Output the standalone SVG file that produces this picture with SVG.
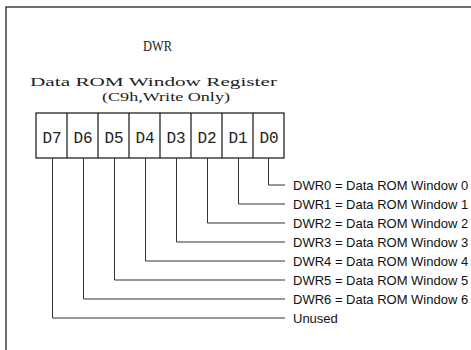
<svg xmlns="http://www.w3.org/2000/svg" width="471" height="350" viewBox="0 0 471 350">
<style>
.frame{fill:none;stroke:#222;stroke-width:1.3}
.cell{fill:#fff;stroke:#111;stroke-width:1.2}
.serif{font-family:"Liberation Serif","Times New Roman",serif;fill:#222}
.mono{font-family:"Liberation Mono","DejaVu Sans Mono",monospace;fill:#222}
.lbl{font-family:"Liberation Sans",Arial,sans-serif;font-size:13px;fill:#111}
.conn{fill:none;stroke:#333;stroke-width:1}
</style>
<rect width="471" height="350" fill="#fff"/>
<rect class="frame" x="6" y="7" width="520" height="400"/>
<g id="title">
<text class="serif" x="143" y="51" font-size="14" textLength="29" lengthAdjust="spacingAndGlyphs">DWR</text>
<text class="serif" x="30" y="86" font-size="13" textLength="247" lengthAdjust="spacingAndGlyphs">Data ROM Window Register</text>
<text class="serif" x="102" y="101" font-size="12" textLength="128" lengthAdjust="spacingAndGlyphs">(C9h,Write Only)</text>
</g>
<g id="register">
<rect class="cell" x="36" y="113" width="248" height="45"/>
<g class="cell">
<line x1="67" y1="113" x2="67" y2="158"/>
<line x1="98" y1="113" x2="98" y2="158"/>
<line x1="129" y1="113" x2="129" y2="158"/>
<line x1="160" y1="113" x2="160" y2="158"/>
<line x1="191" y1="113" x2="191" y2="158"/>
<line x1="222" y1="113" x2="222" y2="158"/>
<line x1="253" y1="113" x2="253" y2="158"/>
</g>
<g class="mono" font-size="16" text-anchor="middle">
<text x="52" y="143">D7</text>
<text x="83" y="143">D6</text>
<text x="114" y="143">D5</text>
<text x="145" y="143">D4</text>
<text x="176" y="143">D3</text>
<text x="207" y="143">D2</text>
<text x="238" y="143">D1</text>
<text x="269" y="143">D0</text>
</g>
</g>
<g id="connectors">
<polyline class="conn" points="268.5,158 268.5,185 285,185"/>
<polyline class="conn" points="238.5,158 238.5,204 285,204"/>
<polyline class="conn" points="207.5,158 207.5,223 285,223"/>
<polyline class="conn" points="176.5,158 176.5,242 285,242"/>
<polyline class="conn" points="145.5,158 145.5,261 285,261"/>
<polyline class="conn" points="114.5,158 114.5,280 285,280"/>
<polyline class="conn" points="83.5,158 83.5,299 285,299"/>
<polyline class="conn" points="52.5,158 52.5,318 285,318"/>
</g>
<g id="labels">
<text class="lbl" x="293" y="189.5">DWR0 = Data ROM Window 0</text>
<text class="lbl" x="293" y="208.5">DWR1 = Data ROM Window 1</text>
<text class="lbl" x="293" y="227.5">DWR2 = Data ROM Window 2</text>
<text class="lbl" x="293" y="246.5">DWR3 = Data ROM Window 3</text>
<text class="lbl" x="293" y="265.5">DWR4 = Data ROM Window 4</text>
<text class="lbl" x="293" y="284.5">DWR5 = Data ROM Window 5</text>
<text class="lbl" x="293" y="303.5">DWR6 = Data ROM Window 6</text>
<text class="lbl" x="293" y="322.5">Unused</text>
</g>
</svg>
